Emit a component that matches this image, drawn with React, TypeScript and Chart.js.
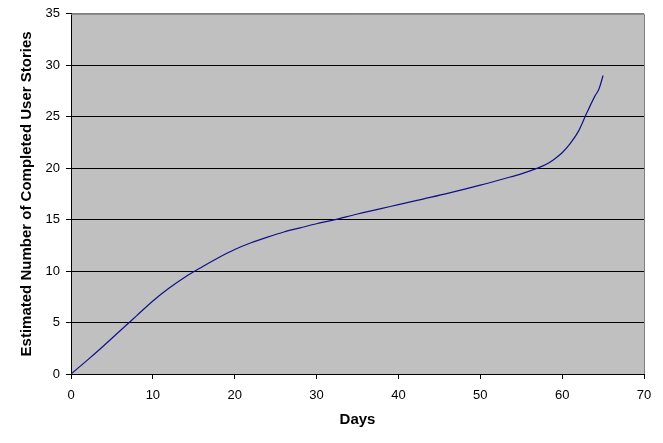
import { useEffect, useRef } from 'react';
import { Chart, registerables } from 'chart.js';

Chart.register(...registerables);

const days = [
  0, 2, 4, 6, 8, 10, 12, 14, 16, 18, 20, 22, 24, 26, 28, 30, 32, 35, 38, 40, 43,
  46, 50, 53, 55, 57, 58, 59, 60, 61, 62, 63, 64, 64.5, 65,
];
const stories = [
  0, 1.35, 2.75, 4.2, 5.65, 7.1, 8.35, 9.45, 10.4, 11.3, 12.1, 12.75, 13.3,
  13.8, 14.2, 14.6, 14.95, 15.55, 16.1, 16.45, 17.0, 17.55, 18.35, 19.0, 19.45,
  20.0, 20.35, 20.85, 21.5, 22.4, 23.6, 25.35, 27.0, 27.7, 29.0,
];

const xTicks = [0, 10, 20, 30, 40, 50, 60, 70];
const yTicks = [0, 5, 10, 15, 20, 25, 30, 35];

const FONT = '"Liberation Sans", Arial, sans-serif';

const plotArea = {
  id: 'plotArea',
  beforeDraw(chart: Chart) {
    const { ctx, chartArea: a } = chart;
    ctx.save();
    ctx.fillStyle = '#c0c0c0';
    ctx.fillRect(a.left, a.top, a.right - a.left, a.bottom - a.top);
    ctx.restore();
  },
  afterDatasetsDraw(chart: Chart) {
    const { ctx, chartArea: a } = chart;
    ctx.save();
    ctx.strokeStyle = '#808080';
    ctx.lineWidth = 1;
    ctx.beginPath();
    ctx.moveTo(a.left, a.top + 0.5);
    ctx.lineTo(a.right + 0.5, a.top + 0.5);
    ctx.lineTo(a.right + 0.5, a.bottom);
    ctx.stroke();
    ctx.restore();
  },
};

export default function App() {
  const chartRef = useRef<HTMLCanvasElement>(null);
  const chartInstance = useRef<Chart | null>(null);

  useEffect(() => {
    document.body.style.margin = '0';
    if (!chartRef.current) return;
    if (chartInstance.current) chartInstance.current.destroy();

    const ctx = chartRef.current.getContext('2d');
    if (!ctx) return;

    chartInstance.current = new Chart(ctx, {
      type: 'scatter',
      data: {
        datasets: [
          {
            data: days.map((d, i) => ({ x: d, y: stories[i] })),
            showLine: true,
            borderColor: '#10108a',
            borderWidth: 1.2,
            pointRadius: 0,
            cubicInterpolationMode: 'monotone',
          },
        ],
      },
      options: {
        animation: false,
        responsive: true,
        maintainAspectRatio: false,
        layout: { padding: { top: 12, right: 19, bottom: 0, left: 0 } },
        plugins: { legend: { display: false }, tooltip: { enabled: false } },
        scales: {
          x: {
            type: 'linear',
            min: 0,
            max: 70,
            afterFit: (s: any) => {
              s.height = 69;
            },
            afterBuildTicks: (s: any) => {
              s.ticks = xTicks.map((v) => ({ value: v }));
            },
            grid: {
              drawOnChartArea: false,
              tickLength: 5,
              tickColor: '#000',
            },
            border: { color: '#000', width: 1 },
            ticks: {
              padding: 9,
              color: '#000',
              font: { family: FONT, size: 13 },
              maxRotation: 0,
            },
            title: {
              display: true,
              text: 'Days',
              color: '#000',
              font: { family: FONT, size: 15, weight: 'bold' },
              padding: { top: 0, bottom: 14 },
            },
          },
          y: {
            type: 'linear',
            min: 0,
            max: 35,
            afterFit: (s: any) => {
              s.width = 71;
            },
            afterBuildTicks: (s: any) => {
              s.ticks = yTicks.map((v) => ({ value: v }));
            },
            grid: {
              color: (c: any) => (c.tick && c.tick.value === 35 ? '#808080' : '#000'),
              tickColor: '#000',
              tickLength: 5,
              lineWidth: 1,
            },
            border: { color: '#000', width: 1 },
            ticks: {
              padding: 6,
              color: '#000',
              font: { family: FONT, size: 13 },
            },
            title: {
              display: true,
              text: 'Estimated Number of Completed User Stories',
              color: '#000',
              font: { family: FONT, size: 15, weight: 'bold' },
              padding: { top: 18, bottom: 0 },
            },
          },
        },
      },
      plugins: [plotArea],
    });

    return () => {
      if (chartInstance.current) {
        chartInstance.current.destroy();
        chartInstance.current = null;
      }
    };
  }, []);

  return (
    <div style={{ width: 663, height: 443, background: '#fff' }}>
      <canvas ref={chartRef} />
    </div>
  );
}
